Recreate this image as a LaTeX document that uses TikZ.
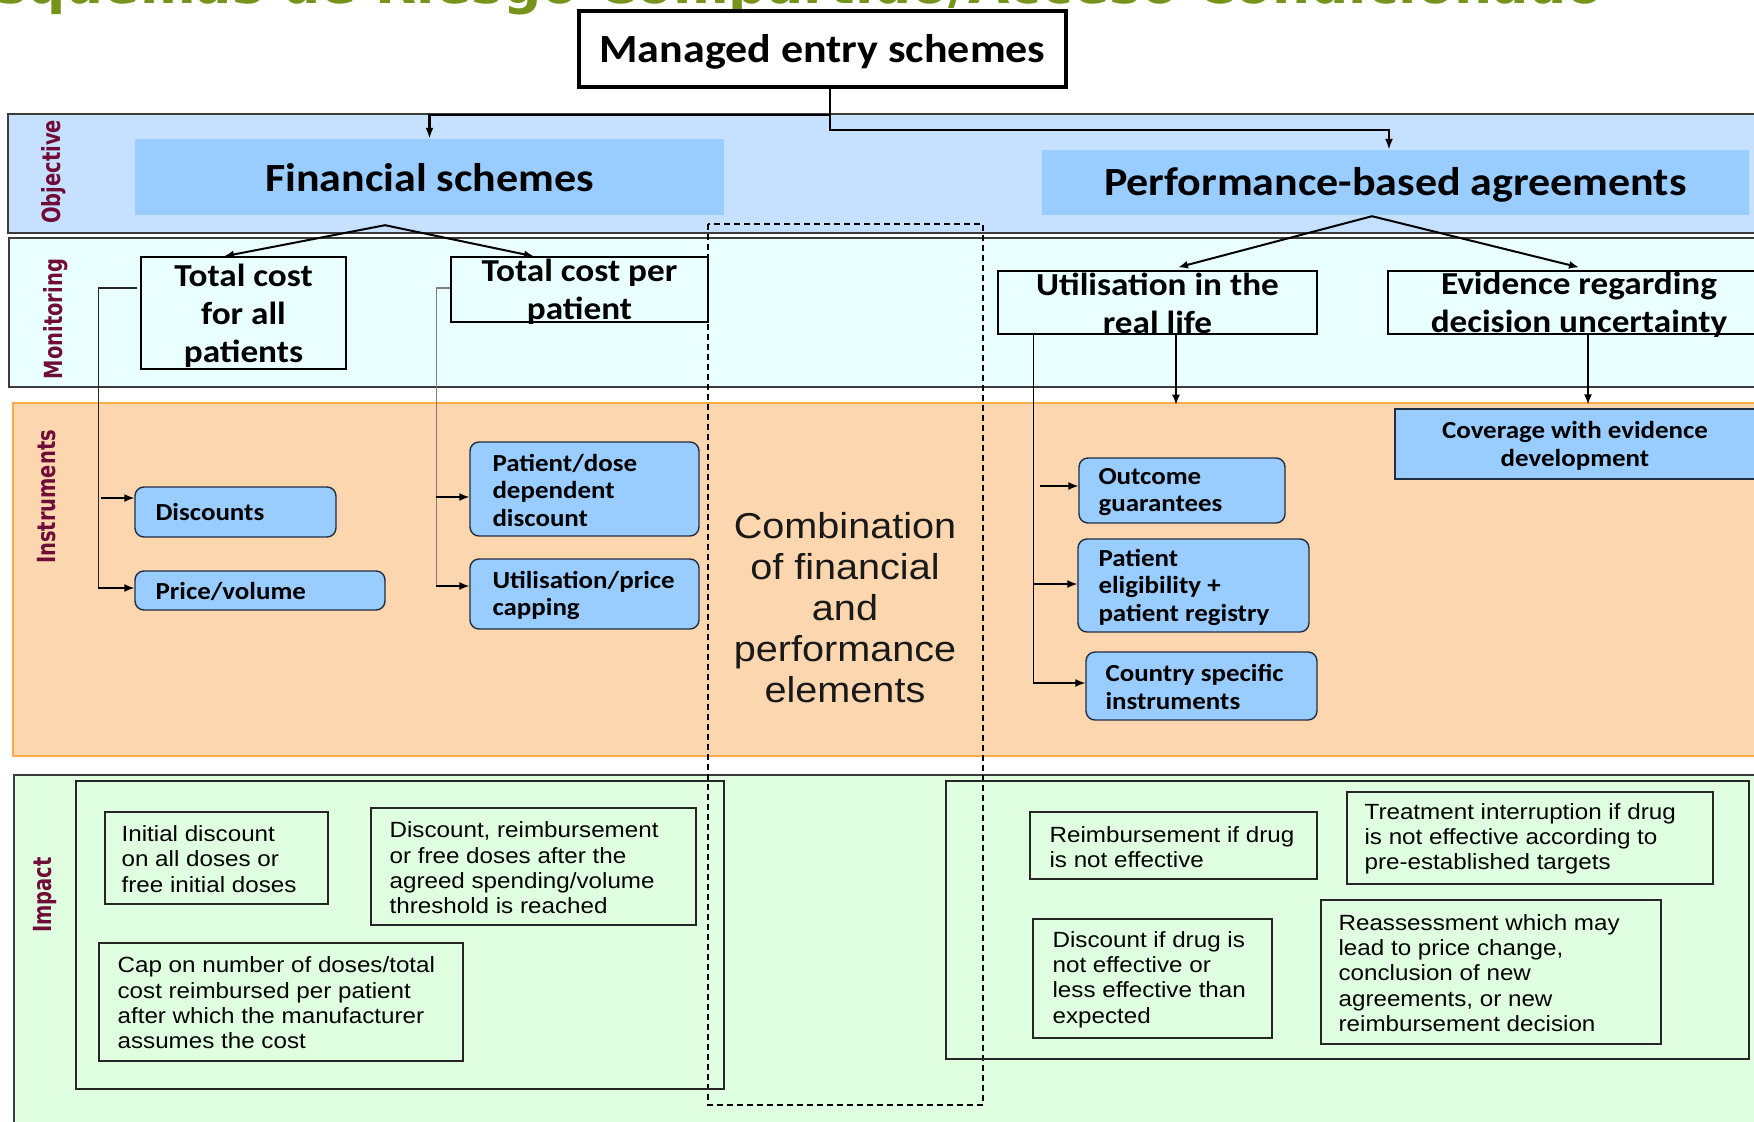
\documentclass[tikz,border=0pt]{standalone}
\usepackage{fontspec}
\usetikzlibrary{arrows.meta,calc}
\newfontfamily\hdfont[FakeStretch=1.1]{Carlito}
\newfontfamily\sidefont[FakeStretch=0.78]{DejaVu Sans}
\newfontfamily\txtfont[FakeStretch=1.1]{Liberation Sans}
\newfontfamily\lblfont{DejaVu Sans}
\definecolor{titlegreen}{RGB}{118,148,28}
\definecolor{objfill}{RGB}{198,224,255}
\definecolor{headfill}{RGB}{153,204,255}
\definecolor{monfill}{RGB}{234,255,255}
\definecolor{insfill}{RGB}{252,214,175}
\definecolor{insedge}{RGB}{248,172,70}
\definecolor{impfill}{RGB}{224,255,224}
\definecolor{maroon}{RGB}{112,12,56}
\definecolor{bandedge}{RGB}{60,60,60}
\definecolor{boxedge}{RGB}{35,45,65}
\definecolor{trunkgray}{RGB}{125,125,125}
\begin{document}
\begin{tikzpicture}[x=1pt,y=-1pt,
  band/.style={draw=bandedge,line width=1.6pt,inner sep=0pt},
  sidelabel/.style={rotate=90,text=maroon,font=\sidefont\bfseries\fontsize{25}{30}\selectfont,inner sep=0pt},
  headbox/.style={fill=headfill,inner sep=0pt},
  headtext/.style={inner sep=0pt,font=\hdfont\bfseries\fontsize{40}{48}\selectfont},
  monbox/.style={draw=black,line width=1.3pt,inner sep=0pt},
  montext/.style={align=center,inner sep=0pt,font=\hdfont\bfseries\fontsize{32}{38}\selectfont},
  insbox/.style={draw=boxedge,line width=1.4pt,fill=headfill,rounded corners=9pt,inner sep=0pt},
  instext/.style={align=left,anchor=west,inner sep=0pt,font=\hdfont\bfseries\fontsize{24.5}{27.5}\selectfont},
  impbox/.style={draw=black!85,line width=1.2pt,inner sep=0pt},
  imptext/.style={align=left,anchor=west,inner sep=0pt,font=\txtfont\fontsize{22}{25.3}\selectfont},
  conn/.style={line width=1.5pt},
  arr/.style={line width=1.5pt,-{Latex[length=10pt,width=8pt]}},
  bigarr/.style={line width=2.2pt,-{Latex[length=11pt,width=8pt]}}]
\useasboundingbox (0,0) rectangle (1754,1122);
\clip (0,0) rectangle (1754,1122);
\fill[white] (0,0) rectangle (1754,1122);

% page heading, running off the top edge
\node[anchor=base west,inner sep=0pt,text=titlegreen,
      font=\lblfont\bfseries\fontsize{53.5}{60}\selectfont] (pagetitle) at (-41,3)
      {Esquemas de Riesgo Compartido/Acceso Condicionado};

% horizontal bands
\node[band,fill=objfill,minimum width=1762,minimum height=119] (objband) at (889,173.5) {};
\node[band,fill=monfill,minimum width=1761,minimum height=149] (monband) at (889.5,312.5) {};
\node[band,draw=insedge,line width=1.3pt,fill=insfill,minimum width=1757,minimum height=353] (insband) at (891.5,579.5) {};
\node[band,fill=impfill,minimum width=1756,minimum height=355] (impband) at (892,952.5) {};

\node[sidelabel] (lobj) at (54,172) {Objective};
\node[sidelabel] (lmon) at (56,319) {Monitoring};
\node[sidelabel] (lins) at (47,497) {Instruments};
\node[sidelabel] (limp) at (45,895) {Impact};

% combined financial/performance area
\draw[line width=1.1pt,dash pattern=on 6pt off 4pt] (708,224) rectangle (983,1105);

% top level
\node[draw=black,line width=4pt,fill=white,inner sep=0pt,minimum width=487,minimum height=76] (mes) at (822.5,49) {};
\node[headtext] (mest) at ($(mes.center)+(0,3)$) {Managed entry schemes};
\node[headbox,minimum width=589,minimum height=76] (fin) at (429.5,177) {};
\node[headtext] (fint) at ($(fin.center)+(0,1)$) {Financial schemes};
\node[headbox,minimum width=707,minimum height=65] (pba) at (1395.5,182.5) {};
\node[headtext] (pbat) at ($(pba.center)+(0,2)$) {Performance-based agreements};

\draw[bigarr] ($(mes.south)+(7.5,0)$) -- ++(0,26) -| (fin.north);
\draw[bigarr] ($(mes.south)+(7.5,0)$) -- ++(0,41) -| ($(pba.north)+(-6.5,0)$);

% monitoring
\node[monbox,minimum width=205,minimum height=112] (tcall) at (243.5,313) {};
\node[montext] (tcallt) at ($(tcall.center)+(0,3)$) {Total cost\\for all\\patients};
\node[monbox,minimum width=257,minimum height=65] (tcpp) at (579.5,289.5) {};
\node[montext] (tcppt) at ($(tcpp.center)+(0,2.5)$) {Total cost per\\patient};
\node[monbox,minimum width=319,minimum height=63] (util) at (1157.5,302.5) {};
\node[montext] (utilt) at ($(util.center)+(0,1)$) {Utilisation in the\\real life};
\node[monbox,minimum width=382,minimum height=63] (evid) at (1579,302.5) {};
\node[montext] (evidt) at ($(evid.center)+(0,2.5)$) {Evidence regarding\\decision uncertainty};

\coordinate (fap) at ($(fin.south)+(-44.5,10)$);
\draw[arr,line width=2pt] (fap) -- ($(tcall.north)+(-19.5,0)$);
\draw[arr,line width=2pt] (fap) -- ($(tcpp.north)+(-45.5,0)$);
\coordinate (pap) at ($(pba.south)+(-23.5,1)$);
\draw[arr,line width=2pt] (pap) -- ($(util.north)+(20.5,-3)$);
\draw[arr,line width=2pt] (pap) -- ($(evid.north)+(0,-3)$);

% instruments
\node[insbox,minimum width=201,minimum height=50] (disc) at (235.5,512) {};
\node[instext] (disct) at ($(disc.west)+(21,0)$) {Discounts};
\node[insbox,minimum width=250,minimum height=39] (pv) at (260,590.5) {};
\node[instext] (pvt) at ($(pv.west)+(21,1)$) {Price/volume};
\node[insbox,minimum width=229,minimum height=94] (pdd) at (584.5,489) {};
\node[instext] (pddt) at ($(pdd.west)+(23,1)$) {Patient/dose\\dependent\\discount};
\node[insbox,minimum width=229,minimum height=70] (upc) at (584.5,594) {};
\node[instext] (upct) at ($(upc.west)+(23,1.5)$) {Utilisation/price\\capping};
\node[insbox,minimum width=206,minimum height=65] (og) at (1182,490.5) {};
\node[instext] (ogt) at ($(og.west)+(20,1.5)$) {Outcome\\guarantees};
\node[insbox,minimum width=231,minimum height=93] (pel) at (1193.5,585.5) {};
\node[instext] (pelt) at ($(pel.west)+(21,1.5)$) {Patient\\eligibility +\\patient registry};
\node[insbox,minimum width=231,minimum height=68] (csi) at (1201.5,686) {};
\node[instext] (csit) at ($(csi.west)+(20,1)$) {Country specific\\instruments};
\node[draw=boxedge,line width=1.4pt,fill=headfill,inner sep=0pt,minimum width=360,minimum height=70] (cov) at (1575,444) {};
\node[align=center,inner sep=0pt,font=\hdfont\bfseries\fontsize{24.5}{27.5}\selectfont] (covt)
      at ($(cov.center)+(0,2)$) {Coverage with evidence\\development};

\node[align=center,inner sep=0pt,text=black!90,font=\txtfont\fontsize{36}{41}\selectfont] (comb) at (845,608)
      {Combination\\of financial\\and\\performance\\elements};

% monitoring to instruments
\draw[conn,black!85] ($(tcall.west)+(-3,-25)$) -| ($(pv.west)+(-36,-2.5)$);
\draw[arr] ($(pv.west)+(-36,-2.5)$) -- ($(pv.west)+(0,-2.5)$);
\draw[arr] ($(disc.west)+(-33,-14)$) -- ($(disc.west)+(0,-14)$);

\draw[conn,trunkgray,line width=1.3pt] ($(tcpp.west)+(0,-1.5)$) -| ($(upc.west)+(-33,-8)$);
\draw[arr] ($(upc.west)+(-33,-8)$) -- ($(upc.west)+(0,-8)$);
\draw[arr] ($(pdd.west)+(-33,8)$) -- ($(pdd.west)+(0,8)$);

\draw[conn] ($(util.south west)+(36,0)$) |- ($(csi.west)+(-52,-3)$);
\draw[arr] ($(csi.west)+(-52,-3)$) -- ($(csi.west)+(0,-3)$);
\draw[arr] ($(og.west)+(-38,-4.5)$) -- ($(og.west)+(0,-4.5)$);
\draw[arr] ($(pel.west)+(-44,-1.5)$) -- ($(pel.west)+(0,-1.5)$);

\draw[arr] ($(util.south)+(18.5,0)$) -- ($(util.south)+(18.5,70)$);
\draw[arr] ($(evid.south)+(9,0)$) -- ($(cov.north)+(13,-4)$);

% impact
\node[impbox,minimum width=648,minimum height=308] (lout) at (400,935) {};
\node[impbox,minimum width=223,minimum height=92] (i1) at (216.5,858) {};
\node[imptext] (i1t) at ($(i1.west)+(17,1)$) {Initial discount\\on all doses or\\free initial doses};
\node[impbox,minimum width=325,minimum height=117] (i2) at (533.5,866.5) {};
\node[imptext] (i2t) at ($(i2.west)+(19,1.5)$) {Discount, reimbursement\\or free doses after the\\agreed spending/volume\\threshold is reached};
\node[impbox,minimum width=364,minimum height=118] (i3) at (281,1002) {};
\node[imptext] (i3t) at ($(i3.west)+(19,1)$) {Cap on number of doses/total\\cost reimbursed per patient\\after which the manufacturer\\assumes the cost};

\node[impbox,minimum width=803,minimum height=278] (rout) at (1347.5,920) {};
\node[impbox,minimum width=287,minimum height=67] (r1) at (1173.5,845.5) {};
\node[imptext] (r1t) at ($(r1.west)+(20,1.5)$) {Reimbursement if drug\\is not effective};
\node[impbox,minimum width=366,minimum height=92] (r2) at (1530,838) {};
\node[imptext] (r2t) at ($(r2.west)+(18,1)$) {Treatment interruption if drug\\is not effective according to\\pre-established targets};
\node[impbox,minimum width=239,minimum height=119] (r3) at (1152.5,978.5) {};
\node[imptext] (r3t) at ($(r3.west)+(20,1)$) {Discount if drug is\\not effective or\\less effective than\\expected};
\node[impbox,minimum width=340,minimum height=144] (r4) at (1491,972) {};
\node[imptext] (r4t) at ($(r4.west)+(18,1)$) {Reassessment which may\\lead to price change,\\conclusion of new\\agreements, or new\\reimbursement decision};
\end{tikzpicture}
\end{document}
